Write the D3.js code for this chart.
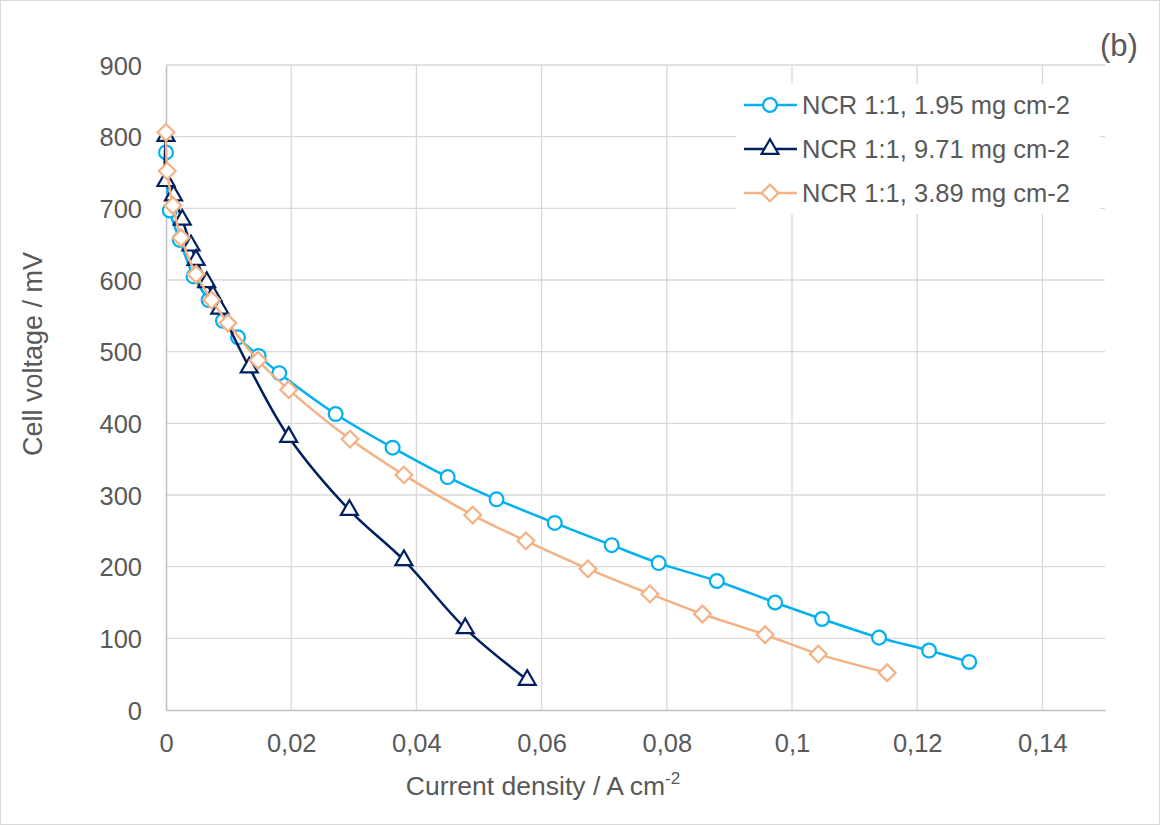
<!DOCTYPE html>
<html lang="en">
<head>
<meta charset="UTF-8">
<title>Polarisation curves (b)</title>
<script src="https://d3js.org/d3.v7.min.js"></script>
<style>
  html, body { margin: 0; padding: 0; background: #fff; }
  svg { display: block; font-family: "Liberation Sans", Arial, sans-serif; }
</style>
</head>
<body>
<div id="chart"></div>
<script>
// series names
const seriesNames = ["NCR 1:1, 1.95 mg cm-2", "NCR 1:1, 9.71 mg cm-2", "NCR 1:1, 3.89 mg cm-2"];

// NCR 1:1, 1.95 mg cm-2 (current density A cm-2, cell voltage mV)
const s1x = [0, 0.0006, 0.0022, 0.0044, 0.0068, 0.0091, 0.0115, 0.0148, 0.0181, 0.0271, 0.0362, 0.045, 0.0528, 0.0621, 0.0712, 0.0787, 0.088, 0.0973, 0.1048, 0.1139, 0.1219, 0.1283];
const s1y = [778, 697, 656, 605, 572, 543, 520, 494, 470, 413, 366, 325, 294, 261, 230, 205, 180, 150, 127, 101, 83, 67];

// NCR 1:1, 9.71 mg cm-2
const s2x = [0, 0, 0.0012, 0.0026, 0.004, 0.0048, 0.0065, 0.0075, 0.0086, 0.0133, 0.0196, 0.0293, 0.038, 0.0478, 0.0577];
const s2y = [801, 738, 718, 684, 648, 628, 597, 578, 560, 478, 381, 279, 209, 114, 42];

// NCR 1:1, 3.89 mg cm-2
const s3x = [0, 0.0002, 0.0011, 0.0024, 0.0048, 0.0073, 0.0099, 0.0147, 0.0196, 0.0294, 0.038, 0.049, 0.0575, 0.0674, 0.0773, 0.0857, 0.0957, 0.1042, 0.1152];
const s3y = [806, 752, 704, 659, 608, 572, 540, 488, 447, 378, 328, 272, 236, 197, 162, 134, 105, 78, 52];

const xTicks = [0, 0.02, 0.04, 0.06, 0.08, 0.1, 0.12, 0.14];
const yTicks = [0, 100, 200, 300, 400, 500, 600, 700, 800, 900];

const colors = ["#00B0F0", "#002060", "#F4B183"];
const textColor = "#595959";

const W = 1160, H = 825;
const margin = { top: 65, right: 55, bottom: 115, left: 166 };
const width = W - margin.left - margin.right;
const height = H - margin.top - margin.bottom;

const svg = d3.select("#chart").append("svg")
  .attr("width", W).attr("height", H);

// outer frame
svg.append("rect")
  .attr("x", 0.5).attr("y", 0.5)
  .attr("width", W - 1).attr("height", H - 1)
  .attr("fill", "#fff").attr("stroke", "#D9D9D9");

const g = svg.append("g").attr("transform", `translate(${margin.left},${margin.top})`);

const x = d3.scaleLinear().domain([0, 0.15]).range([0, width]);
const y = d3.scaleLinear().domain([0, 900]).range([height, 0]);

// decimal comma, as in the original
const locale = d3.formatLocale({ decimal: ",", thousands: ".", grouping: [3], currency: ["", ""] });
const fmt = locale.format("~g");

// gridlines
g.append("g").selectAll("line").data(yTicks.slice(1)).join("line")
  .attr("x1", 0).attr("x2", width)
  .attr("y1", d => y(d)).attr("y2", d => y(d))
  .attr("stroke", "#D9D9D9").attr("stroke-width", 1.3);
g.append("g").selectAll("line").data(xTicks.slice(1)).join("line")
  .attr("x1", d => x(d)).attr("x2", d => x(d))
  .attr("y1", 0).attr("y2", height)
  .attr("stroke", "#D9D9D9").attr("stroke-width", 1.3);

// axes
const xAxis = g.append("g").attr("transform", `translate(0,${height})`)
  .call(d3.axisBottom(x).tickValues(xTicks).tickFormat(fmt).tickSize(0).tickPadding(24));
const yAxis = g.append("g")
  .call(d3.axisLeft(y).tickValues(yTicks).tickSize(0).tickPadding(24));
[xAxis, yAxis].forEach(a => {
  a.select(".domain").attr("stroke", "#BFBFBF").attr("stroke-width", 1.5);
  a.selectAll("text").attr("fill", textColor).style("font-size", "25.5px")
    .style("font-family", "'Liberation Sans', Arial, sans-serif");
});
yAxis.selectAll("text").attr("dy", "0.36em");

// markers: circle, triangle, square diamond (rotated square)
const markers = [
  { type: d3.symbolCircle, size: 150, rot: 0 },
  { type: d3.symbolTriangle, size: 125, rot: 0 },
  { type: d3.symbolSquare, size: 140, rot: 45 }
];

const series = [
  s1x.map((v, i) => ({ x: v, y: s1y[i] })),
  s2x.map((v, i) => ({ x: v, y: s2y[i] })),
  s3x.map((v, i) => ({ x: v, y: s3y[i] }))
];

const line = d3.line().x(d => x(d.x)).y(d => y(d.y)).curve(d3.curveCatmullRom.alpha(0.5));

series.forEach((data, k) => {
  const sg = g.append("g");
  sg.append("path").datum(data)
    .attr("fill", "none").attr("stroke", colors[k]).attr("stroke-width", 2.5)
    .attr("d", line);
  sg.selectAll("path.m").data(data).join("path").attr("class", "m")
    .attr("transform", d => `translate(${x(d.x)},${y(d.y)}) rotate(${markers[k].rot})`)
    .attr("d", d3.symbol().type(markers[k].type).size(markers[k].size))
    .attr("fill", "#fff").attr("stroke", colors[k]).attr("stroke-width", 2.2);
});

// legend
const leg = svg.append("g").attr("transform", "translate(736,84)");
leg.append("rect").attr("x", 0).attr("y", 0).attr("width", 364).attr("height", 130).attr("fill", "#fff");
seriesNames.forEach((name, k) => {
  const ry = 21 + k * 44;
  const row = leg.append("g").attr("transform", `translate(0,${ry})`);
  row.append("line").attr("x1", 8).attr("x2", 61).attr("y1", 0).attr("y2", 0)
    .attr("stroke", colors[k]).attr("stroke-width", 2.5);
  row.append("path").attr("transform", `translate(34,0) rotate(${markers[k].rot})`)
    .attr("d", d3.symbol().type(markers[k].type).size(markers[k].size))
    .attr("fill", "#fff").attr("stroke", colors[k]).attr("stroke-width", 2.2);
  row.append("text").attr("x", 66).attr("y", 0).attr("dy", "0.36em")
    .attr("fill", textColor).style("font-size", "25.5px").text(name);
});

// panel label
svg.append("text").attr("x", 1100).attr("y", 56)
  .attr("fill", textColor).style("font-size", "31px").text("(b)");

// axis titles
svg.append("text")
  .attr("transform", "translate(42,354) rotate(-90)")
  .attr("text-anchor", "middle").attr("fill", textColor).style("font-size", "27px")
  .text("Cell voltage / mV");

const xt = svg.append("text")
  .attr("x", 543).attr("y", 795)
  .attr("text-anchor", "middle").attr("fill", textColor).style("font-size", "26.5px");
xt.append("tspan").text("Current density / A cm");
xt.append("tspan").attr("dy", -11).style("font-size", "17px").text("-2");
</script>
</body>
</html>
